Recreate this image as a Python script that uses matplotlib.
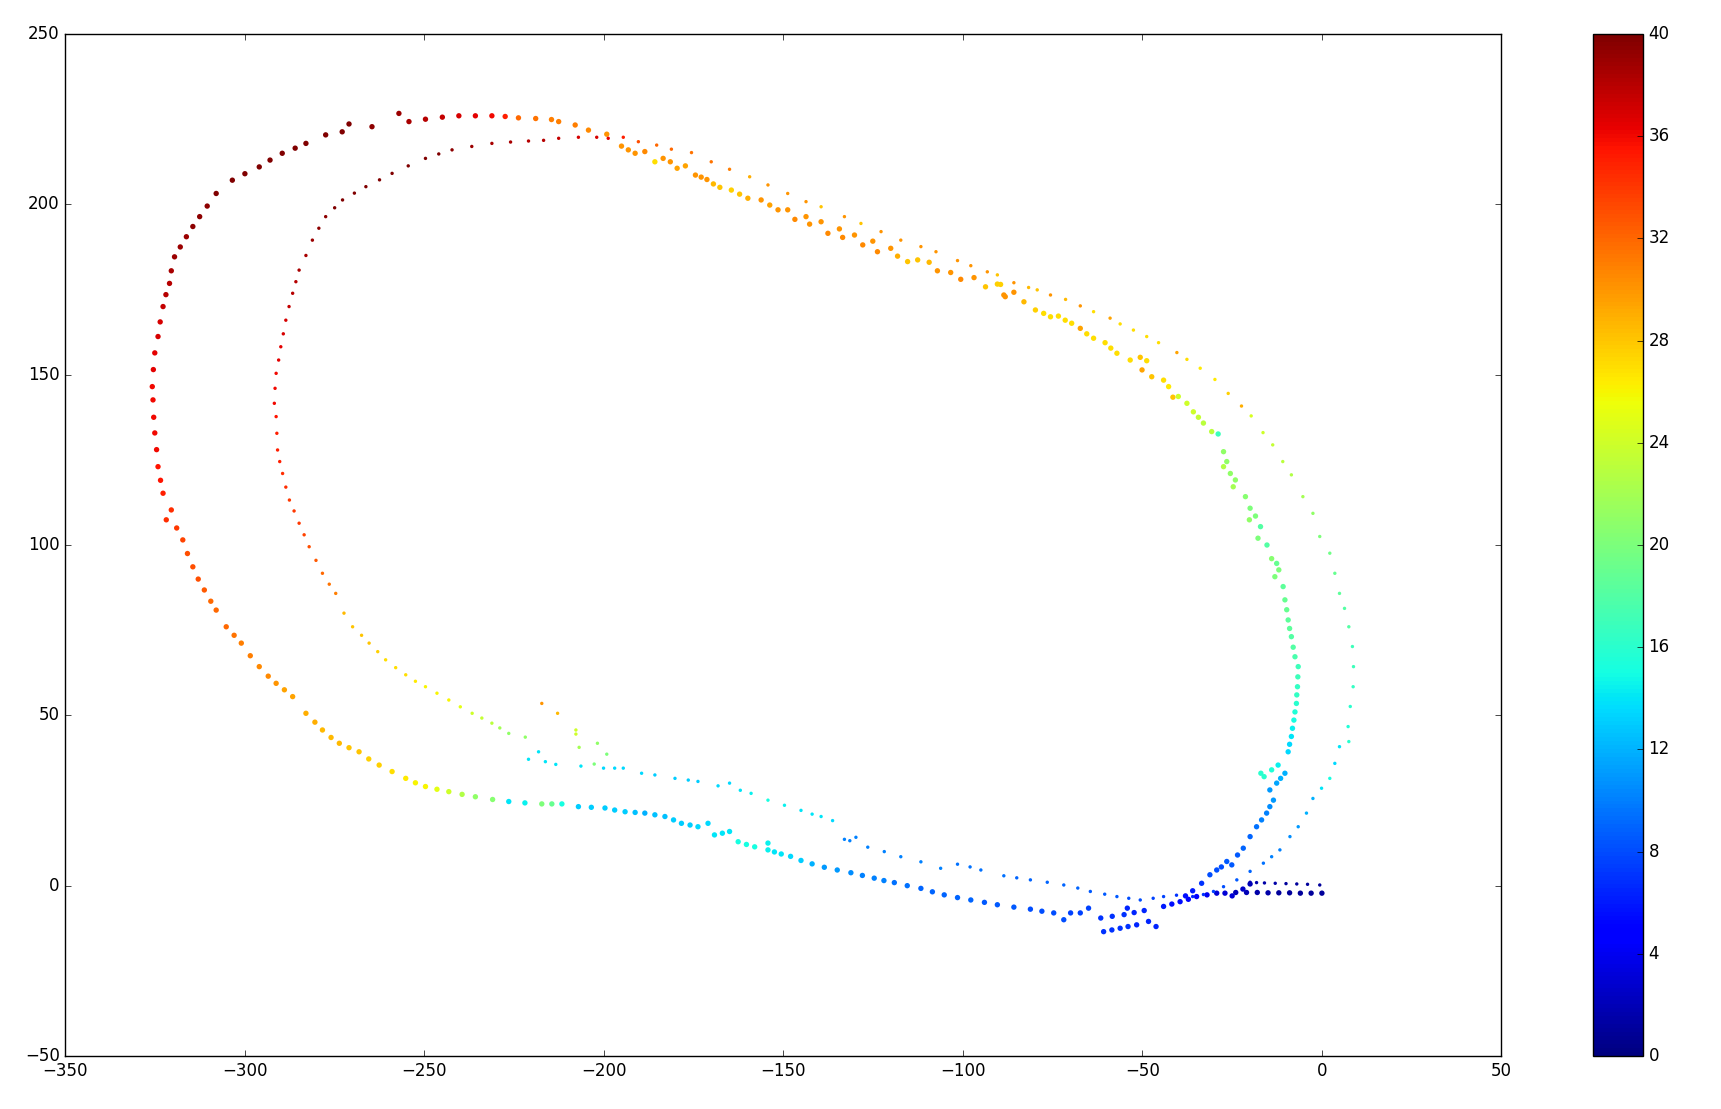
import numpy as np
import matplotlib
matplotlib.use("Agg")
import matplotlib.pyplot as plt

plt.style.use("classic")

# --- thick track: outer-left arc + lower bottom line (x, y, value) ---
outer_x = [-199.2, -204.3, -208.0, -212.6, -214.6, -219.0, -223.8, -227.5, -231.2, -235.8,
           -240.4, -245.0, -249.7, -254.3, -257.1, -264.6, -271.0, -272.9, -277.5, -283.0,
           -286.0, -289.6, -293.0, -296.0, -300.0, -303.5, -308.0, -310.5, -312.6, -314.5,
           -316.3, -318.0, -319.6, -320.5, -321.0, -322.0, -322.8, -323.6, -324.2, -325.1,
           -325.5, -325.8, -325.6, -325.4, -325.1, -324.6, -324.2, -323.5, -322.8, -321.9,
           -320.5, -319.0, -317.3, -316.0, -314.5, -313.0, -311.3, -309.5, -308.0, -305.2,
           -303.0, -301.0, -298.5, -296.0, -293.5, -291.3, -289.0, -286.7, -283.0, -280.5,
           -278.4, -276.0, -273.7, -271.0, -268.2, -265.5, -262.6, -259.0, -255.2, -252.5,
           -249.7, -246.5, -243.2, -239.5, -235.8, -231.0, -226.5, -222.0, -217.3, -214.5,
           -211.7, -207.1, -203.5, -199.7, -197.0, -194.1, -191.3, -188.6, -185.8, -183.0,
           -180.6, -178.4, -176.0, -173.8, -171.0, -169.2, -167.0, -165.0, -162.6, -160.3,
           -158.0, -154.3, -154.3, -152.5, -150.6, -148.0, -145.1, -142.0, -138.6, -135.0,
           -131.2, -128.0, -124.7, -122.0, -119.1, -115.5, -111.7, -108.5, -105.2, -101.5,
           -97.8, -94.0, -90.4, -85.8, -81.2, -78.0, -74.7, -71.9, -70.0, -67.3,
           -65.0, -61.6, -58.4, -55.1, -52.3, -49.5, -54.2, -60.8, -58.5, -56.2,
           -54.0, -51.6, -48.3, -46.2, -44.1, -41.8, -39.5, -37.2, -34.9, -32.0, -29.3]
outer_y = [220.6, 221.8, 223.3, 224.3, 224.9, 225.2, 225.4, 225.8, 226.0, 226.0,
           226.0, 225.6, 225.0, 224.3, 226.7, 222.8, 223.6, 221.3, 220.4, 217.9,
           216.5, 215.0, 213.0, 211.0, 209.0, 207.1, 203.2, 199.5, 196.4, 193.5,
           190.5, 187.5, 184.6, 180.5, 176.8, 173.5, 170.0, 165.5, 161.2, 156.4,
           151.5, 146.5, 142.6, 137.5, 132.9, 128.0, 123.0, 119.0, 115.2, 107.4,
           110.3, 105.0, 101.5, 97.5, 93.6, 90.0, 86.8, 83.5, 80.9, 76.0,
           73.5, 71.2, 67.5, 64.3, 61.5, 59.4, 57.5, 55.5, 50.6, 48.0,
           45.7, 43.5, 41.8, 40.5, 39.3, 37.2, 35.4, 33.5, 31.5, 30.2,
           29.1, 28.3, 27.6, 26.8, 26.1, 25.3, 24.7, 24.3, 24.0, 24.0,
           24.0, 23.2, 23.0, 22.8, 22.2, 21.7, 21.5, 21.3, 20.8, 20.3,
           19.3, 18.3, 17.8, 17.3, 18.3, 14.9, 15.4, 15.9, 12.9, 12.1,
           11.4, 12.5, 10.5, 9.9, 9.3, 8.6, 7.4, 6.4, 5.4, 4.6,
           3.8, 3.0, 2.2, 1.5, 0.9, 0.0, -0.8, -1.8, -2.7, -3.5,
           -4.2, -4.9, -5.6, -6.3, -6.9, -7.5, -8.0, -10.0, -8.0, -8.0,
           -6.6, -9.5, -9.0, -8.5, -7.9, -7.3, -6.6, -13.5, -13.0, -12.5,
           -12.0, -11.5, -10.5, -12.0, -6.1, -5.4, -4.7, -4.0, -3.2, -2.7, -2.2]
outer_c = [30, 30.5, 31, 31, 31, 31.5, 32, 35, 36, 36.5,
           37, 37.5, 38, 38.5, 39, 39.5, 40, 40, 40, 40,
           40, 40, 40, 40, 40, 40, 40, 39.5, 39.5, 39.5,
           39, 39, 39, 38.5, 38, 38, 37.5, 37, 37, 36.5,
           36.5, 36, 36, 36, 36, 36, 35.5, 35.5, 35, 34.5,
           34.5, 34, 33.5, 33, 33, 33, 32.5, 32, 32, 32,
           31.5, 31, 31, 30.5, 30.5, 30, 29.5, 29.5, 29, 29,
           28.5, 28.5, 28.5, 28, 28, 27.5, 27.5, 27, 26.5, 26,
           26, 25, 24, 22.5, 21, 20.5, 14, 14.5, 20, 19,
           15, 13, 13, 13, 13, 13, 12.5, 12, 12.5, 12.5,
           13, 13, 13, 13.5, 13.5, 14, 14, 14, 15, 15,
           15, 14.5, 14.5, 14, 14, 13.5, 13, 12, 11, 11,
           10.5, 10, 10, 10, 9.5, 9.5, 9, 9, 9, 9,
           9, 8.5, 8.5, 8.5, 8, 8, 8, 8, 7.5, 7.5,
           7.5, 7, 7, 7, 6.5, 6.5, 6.5, 7, 7, 7,
           7, 6.5, 6.5, 6.5, 6, 5.5, 5.5, 5, 5, 4, 3]

# --- thick track: dashed diagonal + inner-right arc ---
diag_x = [-195.1, -193.2, -191.3, -188.6, -185.8, -183.5, -181.5, -179.6, -177.3, -174.5,
          -172.9, -171.3, -169.5, -167.7, -164.5, -162.2, -159.9, -156.2, -153.8, -151.5,
          -148.8, -146.8, -143.7, -142.7, -139.5, -137.6, -134.4, -133.5, -130.2, -127.9,
          -125.1, -123.8, -120.1, -118.2, -115.4, -112.6, -109.4, -107.1, -103.4, -100.6,
          -96.9, -93.7, -90.4, -89.5, -88.6, -85.8, -88.2, -83.0, -79.8, -77.5,
          -75.6, -73.4, -71.5, -69.7, -67.3, -65.5, -63.6, -60.4, -58.8, -57.1,
          -53.4, -50.6, -48.8, -50.1, -47.4, -44.1, -42.7, -41.5, -40.0, -37.6,
          -35.8, -34.4, -33.0, -30.7, -28.9, -27.4, -26.5, -27.4, -25.5, -24.1,
          -24.7, -21.3, -20.0, -20.2, -18.5, -17.1, -17.8, -15.3, -14.0, -12.6,
          -13.1, -12.0, -10.8, -10.3, -9.8, -9.4, -9.0, -8.5, -8.0, -7.5,
          -6.6, -6.7, -6.8, -7.0, -7.1, -7.5, -7.8, -8.2, -8.5, -9.0,
          -9.4, -12.2, -14.0, -16.1, -17.0, -10.3, -11.5, -12.6, -14.5, -13.5,
          -14.5, -15.4, -16.8, -18.2, -20.0, -21.9, -23.5, -26.5, -25.1, -28.0,
          -29.3, -31.2, -33.5, -36.0, -38.0]
diag_y = [217.1, 216.0, 215.0, 215.5, 212.5, 213.5, 212.5, 210.6, 211.3, 208.6,
          208.0, 207.3, 206.0, 205.0, 204.2, 203.0, 201.8, 201.3, 199.8, 198.4,
          198.4, 195.6, 196.4, 194.2, 194.9, 191.5, 192.8, 190.3, 191.0, 188.1,
          189.2, 186.1, 187.1, 184.8, 183.2, 183.7, 183.0, 180.5, 180.0, 178.0,
          178.5, 175.8, 176.6, 176.5, 173.4, 174.2, 172.9, 171.4, 169.0, 168.0,
          167.0, 167.2, 166.0, 165.1, 163.6, 162.0, 160.7, 159.4, 157.8, 156.3,
          154.3, 155.1, 154.1, 151.4, 149.4, 148.4, 146.5, 143.4, 143.6, 141.6,
          139.1, 137.5, 135.8, 133.3, 132.6, 127.4, 124.5, 123.0, 121.0, 119.1,
          117.1, 114.2, 110.8, 107.4, 108.5, 105.4, 102.0, 100.0, 96.0, 94.6,
          90.7, 92.7, 87.8, 83.9, 81.0, 78.0, 75.5, 73.1, 70.0, 67.2,
          64.3, 61.3, 58.4, 56.0, 53.5, 51.0, 48.6, 46.2, 43.8, 41.5,
          39.3, 35.4, 34.0, 32.0, 33.0, 33.0, 31.5, 30.1, 28.1, 25.1,
          23.2, 21.3, 19.3, 17.3, 14.4, 11.0, 9.0, 7.1, 6.1, 5.5,
          4.6, 3.2, 0.7, -1.5, -3.0]
diag_c = [30, 30, 30, 30.5, 27, 30, 30, 29.5, 29.5, 30,
          30, 30, 28.5, 28, 27.5, 28, 29, 30, 29.5, 30,
          30, 30.5, 30, 30, 30, 30.5, 30, 30.5, 30, 30.5,
          30, 30.5, 30, 29, 28, 28, 28.5, 30, 30, 30.5,
          30, 28, 27.5, 27.5, 30, 30, 30, 28.5, 27.5, 27,
          27, 27, 27, 27, 29.5, 27, 27, 27, 27, 27,
          27, 28, 27, 29.5, 28, 27, 26.5, 28, 24, 24,
          24, 23.5, 23, 23, 17, 21, 21, 22.5, 21, 21,
          22, 20.5, 20, 21, 20, 18, 20, 18, 20.5, 19,
          20, 20, 18.5, 19, 19, 18.5, 18.5, 18, 18, 17.5,
          17, 17, 16.5, 16.5, 16, 15.5, 15, 14.5, 14, 13.5,
          13.5, 14.5, 15.5, 16, 16, 12, 12, 11.5, 11, 11,
          10.5, 10, 10, 9.5, 9, 9, 8.5, 8.5, 8.5, 8,
          8, 8, 7, 6, 5.5]

# --- thick track: dark blue start line ---
start_x = [-27.0, -24.0, -21.0, -18.0, -15.0, -12.0, -9.0, -6.0, -3.0, 0.0, -22.0, -25.0, -20.0]
start_y = [-2.2, -2.0, -2.0, -2.0, -2.1, -2.1, -2.1, -2.2, -2.2, -2.2, -1.0, -3.0, 0.5]
start_c = [3, 2, 2, 1.5, 1.5, 1, 1, 1, 1, 1, 2.5, 3, 2]

# --- thin track: inner-left arc, upper diagonal, outer-right arc ---
inner_x = [-221.9, -226.5, -229.0, -231.2, -234.0, -236.7, -240.0, -243.2, -246.5, -249.7,
           -252.5, -255.2, -258.0, -260.8, -263.0, -265.4, -267.5, -270.0, -272.4, -274.7,
           -276.5, -278.4, -280.2, -282.1, -283.5, -284.9, -286.3, -287.6, -288.6, -289.5,
           -290.3, -290.9, -291.1, -291.3, -291.8, -291.6, -291.3, -290.6, -290.0, -289.3,
           -288.6, -287.7, -286.7, -285.8, -284.9, -283.0, -281.2, -279.4, -277.5, -275.0,
           -272.8, -269.5, -266.3, -262.5, -259.0, -254.5, -249.7, -246.0, -242.3, -236.8,
           -231.2, -226.0, -221.0, -216.8, -212.6, -207.1, -202.0, -198.8, -194.6, -190.4,
           -185.3, -181.2, -175.6, -170.1, -165.0, -159.4, -154.3, -148.8, -143.7, -139.5,
           -133.0, -128.4, -122.8, -117.3, -111.7, -107.5, -101.5, -97.8, -93.2, -90.4,
           -85.8, -81.7, -79.3, -75.6, -71.4, -67.3, -63.6, -59.0, -56.2, -52.5,
           -48.8, -45.5, -40.4, -37.6, -33.9, -29.8, -26.1, -22.4, -19.7, -16.4,
           -13.7, -10.9, -8.5, -5.3, -2.5, -0.6, 2.2, 3.6, 4.9, 6.3,
           7.5, 8.5, 8.8, 8.7, 7.9, 7.3, 7.5, 4.9, 3.6, 2.2,
           -0.1, -2.5, -4.3, -6.6, -8.9, -11.7, -14.0, -16.3, -20.0, -23.7,
           -27.4, -30.2, -33.0, -36.0]
inner_y = [43.6, 44.7, 46.3, 47.7, 49.2, 50.6, 52.5, 54.5, 56.5, 58.4,
           60.0, 61.9, 64.0, 66.3, 68.7, 71.2, 73.5, 76.0, 80.0, 85.8,
           88.5, 91.7, 95.5, 99.5, 103.0, 106.4, 110.0, 113.2, 117.0, 121.0,
           124.5, 127.9, 132.8, 137.7, 141.6, 146.0, 150.4, 154.3, 158.2, 162.0,
           166.0, 170.0, 173.9, 177.3, 180.7, 185.0, 189.5, 193.0, 196.4, 199.0,
           201.3, 203.3, 205.2, 207.2, 209.1, 211.3, 213.5, 214.8, 216.0, 217.0,
           217.9, 218.3, 218.6, 218.8, 219.4, 219.7, 219.7, 219.4, 219.7, 218.4,
           217.4, 216.2, 215.2, 212.5, 210.3, 208.1, 205.7, 203.2, 200.8, 199.3,
           196.4, 194.4, 192.0, 189.5, 187.6, 186.1, 183.5, 182.0, 180.2, 179.3,
           177.0, 175.6, 174.9, 173.4, 172.1, 170.2, 168.5, 166.6, 164.9, 163.1,
           161.2, 159.4, 156.5, 154.5, 151.9, 148.6, 144.5, 140.8, 137.9, 133.0,
           129.4, 124.5, 120.6, 114.2, 109.3, 102.5, 97.6, 91.7, 85.8, 81.4,
           76.0, 70.2, 64.3, 58.4, 52.6, 46.7, 42.3, 40.8, 35.9, 31.5,
           28.6, 25.6, 21.3, 17.3, 14.4, 10.5, 8.5, 6.6, 4.2, 1.7,
           -0.3, -1.7, -2.6, -3.2]
inner_c = [21, 21, 22, 23, 23.5, 24, 25, 26, 26, 26,
           26.5, 27, 27, 27, 27.5, 28, 28, 28, 28.5, 31,
           31.5, 32, 32.5, 33, 33.5, 34, 34, 34, 34.5, 34.5,
           35, 35, 35, 35.5, 36, 36, 36, 36.5, 36.5, 37,
           37, 37.5, 38, 38, 38.5, 38.5, 39, 39.5, 39.5, 40,
           40, 40, 40, 40, 40, 40, 40, 40, 39.5, 39,
           38.5, 38.5, 38, 38, 37.5, 37, 37, 36.5, 35, 33,
           32, 32, 31.5, 31.5, 31, 29, 30, 30, 30, 28,
           30, 28, 30, 30, 30, 30, 30, 30, 30, 28,
           30, 28.5, 28, 30, 28.5, 30, 27, 29.5, 27, 27,
           27, 27, 29.5, 27, 26.5, 26.5, 27.5, 29, 24.5, 24,
           23.5, 23, 22.5, 22, 21, 20, 19.5, 19, 18.5, 18,
           18, 17, 17, 16.5, 16, 15.5, 16, 14, 13.5, 15,
           14, 12, 12, 11, 10.5, 10, 10, 9.5, 9, 8.5,
           8, 7.5, 7, 6.5]

# --- thin track: upper bottom line ---
bottom_x = [-221.0, -218.2, -216.3, -213.4, -206.4, -200.1, -197.0, -194.6, -189.5, -185.8,
            -180.2, -176.5, -173.8, -168.2, -165.0, -162.0, -159.0, -154.3, -149.7, -145.1,
            -142.0, -139.5, -136.3, -133.0, -131.5, -129.8, -126.5, -121.9, -117.3, -111.7,
            -106.2, -101.5, -98.0, -95.0, -88.6, -85.0, -81.2, -76.5, -71.9, -68.0,
            -64.5, -60.5, -57.1, -53.8, -50.6, -47.0, -44.1, -40.5]
bottom_y = [37.1, 39.3, 36.4, 35.6, 35.1, 34.5, 34.5, 34.5, 33.0, 32.5,
            31.5, 31.0, 30.6, 29.3, 30.1, 28.0, 27.1, 25.1, 23.6, 22.1,
            21.0, 20.3, 19.1, 13.6, 13.2, 14.2, 11.3, 10.0, 8.5, 7.0,
            5.1, 6.3, 5.5, 4.6, 2.9, 2.3, 1.7, 1.0, 0.2, -0.7,
            -1.7, -2.5, -3.2, -3.7, -4.2, -3.7, -3.2, -2.8]
bottom_c = [14, 14, 14, 14, 14, 13.5, 13.5, 13.5, 13.5, 13,
            13, 13, 13, 13.5, 13.5, 14, 14.5, 15, 14.5, 14,
            14, 14, 13.5, 10, 10, 10, 10, 10, 10, 10,
            10, 9.5, 9.5, 9.5, 9.5, 9, 9, 9, 9, 9,
            8.5, 8.5, 8.5, 8, 8, 7.5, 7.5, 7]

# --- thin track: dark blue start line and stray points ---
top_x = [-20.0, -18.2, -16.0, -13.0, -10.0, -7.0, -4.0, -0.6]
top_y = [1.0, 0.9, 0.8, 0.7, 0.6, 0.5, 0.4, 0.2]
top_c = [2, 1.5, 1.5, 1.5, 1, 1, 1, 1]

stray_x = [-217.3, -212.9, -207.8, -207.8, -206.9, -201.8, -199.2, -202.7]
stray_y = [53.5, 50.6, 45.7, 44.5, 40.6, 41.8, 38.6, 35.7]
stray_c = [30, 28.5, 24, 24, 22, 21, 20, 20]

cbar_ticks = [0, 4, 8, 12, 16, 20, 24, 28, 32, 36, 40]

thick_x = outer_x + diag_x + start_x
thick_y = outer_y + diag_y + start_y
thick_c = outer_c + diag_c + start_c
thin_x = inner_x + bottom_x + top_x + stray_x
thin_y = inner_y + bottom_y + top_y + stray_y
thin_c = inner_c + bottom_c + top_c + stray_c

fig = plt.figure(figsize=(17.21, 11.09), dpi=100)
ax = fig.add_axes([0.038, 0.0478, 0.8344, 0.9215])

sc = ax.scatter(thick_x, thick_y, c=thick_c, s=15, cmap="jet", vmin=0, vmax=40,
                edgecolors="none")
ax.scatter(thin_x, thin_y, c=thin_c, s=6, cmap="jet", vmin=0, vmax=40,
           edgecolors="none")

ax.set_xlim(-350, 50)
ax.set_ylim(-50, 250)
ax.set_xticks(np.arange(-350, 51, 50))
ax.set_yticks(np.arange(-50, 251, 50))

cax = fig.add_axes([0.9256, 0.0478, 0.029, 0.9215])
cb = fig.colorbar(sc, cax=cax, ticks=cbar_ticks)

fig.savefig("out.png", dpi=100)
